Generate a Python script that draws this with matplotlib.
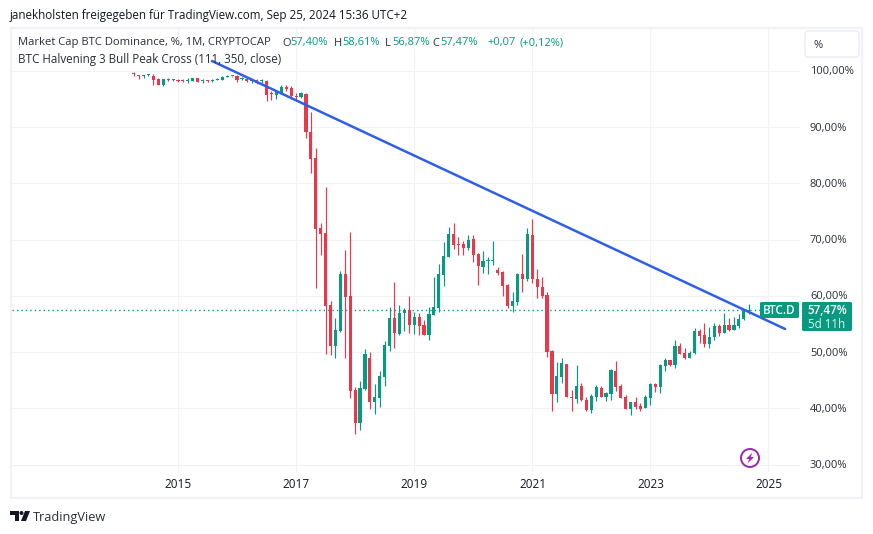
import matplotlib
matplotlib.use("Agg")
import matplotlib.pyplot as plt
from matplotlib.patches import FancyBboxPatch, Rectangle, Circle, Polygon
import numpy as np

plt.rcParams['font.family'] = ['Open Sans', 'DejaVu Sans']

first_month = -9  # months relative to Jan 2015 (Apr 2014)
opens = [99.46,99.17,98.99,99.23,99.05,98.52,97.51,98.46,98.28,98.28,98.28,98.22,98.16,98.63,98.16,98.16,98.10,98.40,98.40,98.93,
 99.05,99.05,98.57,98.57,98.10,98.34,98.10,98.16,95.97,95.61,95.97,97.04,96.92,95.50,95.26,95.85,89.16,84.43,72.06,71.12,
 58.39,51.17,53.83,63.89,59.99,43.29,37.49,43.47,48.98,41.22,41.93,45.66,51.17,56.08,53.24,57.03,57.50,54.84,56.26,54.84,
 53.12,56.67,57.91,63.78,66.97,70.99,69.22,69.22,68.51,70.11,67.50,65.20,66.26,66.26,64.66,64.25,62.00,58.21,58.98,63.89,
 63.00,70.82,62.95,61.53,60.10,50.16,42.58,45.54,47.91,41.99,41.69,44.00,41.51,39.74,42.10,43.65,42.10,42.64,46.66,44.00,
 41.99,39.92,41.16,40.45,40.15,41.93,44.30,43.88,47.55,48.62,47.73,51.10,49.80,48.97,49.80,53.83,53.06,51.46,52.64,54.72,
 53.47,54.83,54.00,54.72,55.84,57.40]
highs = [99.82,99.28,99.23,99.40,99.34,98.63,98.57,98.69,98.52,98.52,98.52,98.63,98.69,98.69,98.52,98.40,98.52,98.63,99.05,99.23,
 99.11,99.17,98.93,98.75,98.57,98.57,98.52,98.34,96.44,96.44,97.51,97.51,97.27,96.09,96.21,95.97,92.71,86.20,72.89,79.40,
 59.04,56.08,64.37,68.16,71.35,43.77,44.83,50.51,49.98,44.36,46.61,52.00,57.97,62.47,58.39,57.80,59.99,57.20,56.91,55.67,
 58.09,63.42,65.61,69.58,72.18,72.89,70.41,69.81,70.82,70.76,67.68,68.04,66.85,69.75,65.20,64.43,62.12,60.70,64.01,67.45,
 72.06,73.60,64.78,63.42,60.76,50.40,48.32,48.91,47.91,43.29,47.73,44.47,42.10,42.58,44.18,44.00,43.00,46.96,48.44,44.36,
 42.34,41.22,41.99,41.04,42.40,44.60,44.60,47.91,48.91,48.62,52.17,51.58,50.69,50.22,54.36,54.06,55.25,54.54,55.25,54.95,
 57.02,56.14,56.31,56.79,57.62,58.61]
lows = [99.05,98.57,98.69,99.05,97.51,97.45,97.27,98.10,98.10,97.98,97.98,97.86,98.16,97.92,97.80,97.98,97.98,98.34,98.34,98.81,
 98.87,98.04,98.34,98.04,97.86,97.63,97.86,94.67,94.79,95.02,95.85,96.44,94.90,94.67,95.14,88.10,81.76,61.47,67.27,49.75,
 49.51,49.03,53.65,49.03,41.93,35.54,36.25,43.29,39.98,39.09,40.27,44.00,50.22,50.81,53.12,53.83,53.42,53.30,53.06,53.00,
 52.17,56.61,57.14,61.76,66.91,68.27,67.27,67.27,68.16,66.02,61.94,64.13,63.89,65.49,63.78,59.99,57.91,57.20,58.33,60.70,
 62.71,62.30,59.63,59.69,49.21,39.56,41.22,44.60,41.99,39.62,41.04,41.40,39.56,39.27,41.40,41.99,41.40,41.51,43.17,41.81,
 39.86,38.85,39.86,39.62,40.09,40.63,42.93,42.82,46.72,47.55,47.26,49.62,48.80,48.91,49.68,51.70,50.99,50.75,52.17,52.88,
 53.35,53.83,53.95,54.36,55.72,56.87]
closes = [99.34,99.11,99.05,99.28,98.34,97.51,98.46,98.40,98.34,98.22,98.22,98.28,98.63,97.98,98.22,98.10,98.34,98.46,98.87,98.99,
 98.99,98.40,98.63,98.10,98.34,97.86,98.16,95.73,95.79,96.21,97.15,96.74,95.50,95.26,95.97,89.16,84.37,71.88,71.06,58.27,
 51.17,53.95,63.89,59.81,43.17,37.49,43.65,49.69,41.22,42.05,45.78,51.28,56.08,53.47,56.97,57.50,54.84,56.26,54.66,53.12,
 56.79,57.97,63.89,67.09,70.99,69.04,69.10,68.51,69.93,67.27,65.31,66.20,66.38,66.38,64.07,61.82,58.21,59.10,63.89,63.00,
 70.99,62.95,61.58,59.99,50.04,42.64,45.78,48.08,42.05,41.93,44.00,41.51,39.74,42.22,43.76,42.10,42.76,46.84,43.88,41.93,
 39.98,41.16,40.27,39.86,42.05,44.42,43.82,47.73,48.68,47.73,51.10,49.68,48.97,49.80,53.83,52.94,51.46,52.70,54.66,53.41,
 54.83,53.95,54.83,55.90,57.40,57.47]
months = np.arange(first_month, first_month + len(opens))

trend_months = [6.9, 123.4]
trend_values = [101.72, 54.12]

year_ticks = [0, 24, 48, 72, 96, 120]
year_labels = ['2015', '2017', '2019', '2021', '2023', '2025']
price_ticks = [100, 90, 80, 70, 60, 50, 40, 30]
last_price = 57.47

UP = '#089981'
DOWN = '#e8394c'
GRID = '#f1f2f5'
TEXT = '#131722'
W, H = 873, 534

fig = plt.figure(figsize=(W / 100, H / 100), dpi=100, facecolor='white')

# chart pane: pixels x 12..800, y 28..472
ax = fig.add_axes([12 / W, 1 - 472 / H, (800 - 12) / W, (472 - 28) / H])
ax.set_xlim(-33.74, 126.42)
ax.set_ylim(28.72, 107.58)
for s in ax.spines.values():
    s.set_visible(False)
ax.tick_params(length=0, labelleft=False, labelbottom=False)
ax.set_xticks(year_ticks)
ax.set_yticks(price_ticks)
ax.grid(True, color=GRID, lw=0.75)
ax.set_axisbelow(True)

colors = [UP if c >= o else DOWN for o, c in zip(opens, closes)]
ax.vlines(months, lows, highs, colors=colors, lw=0.85, zorder=2)
bottoms = np.minimum(opens, closes)
heights = np.maximum(np.abs(np.array(closes) - np.array(opens)), 0.18)
ax.bar(months, heights, bottom=bottoms, width=0.64, color=colors, lw=0, zorder=3)

ax.axhline(last_price, xmin=0, xmax=(760 - 12) / 788, color=UP, lw=1.0, ls=(0, (1, 2.2)), zorder=1)
ax.plot(trend_months, trend_values, color='#2f5fe6', lw=1.8, zorder=4, solid_capstyle='round')

# overlay in pixel coordinates for frame, labels and badges
ov = fig.add_axes([0, 0, 1, 1], facecolor='none')
ov.set_xlim(0, W)
ov.set_ylim(H, 0)
ov.axis('off')

ov.add_patch(Rectangle((11, 28), 851, 470, fill=False, ec=GRID, lw=1.6))

fs = 8.0
fl = 8.33
ov.text(10, 15.5, 'janekholsten freigegeben für TradingView.com, Sep 25, 2024 15:36 UTC+2',
        fontsize=fl, color=TEXT, va='center')
ov.text(18, 43, 'Market Cap BTC Dominance, %, 1M, CRYPTOCAP', fontsize=8.13, color='#2a2e39', va='center')
ov.text(18, 60, 'BTC Halvening 3 Bull Peak Cross (111, 350, close)', fontsize=fl, color='#2a2e39', va='center')
for x, label, value in [(282, 'O', '57,40%'), (334, 'H', '58,61%'), (385, 'L', '56,87%'), (432, 'C', '57,47%')]:
    ov.text(x, 43, label, fontsize=fs, color='#2a2e39', va='center')
    ov.text(x + (8 if label != 'L' else 7), 43, value, fontsize=fs, color=UP, va='center')
ov.text(487, 43, '+0,07', fontsize=fs, color=UP, va='center')
ov.text(520, 43, '(+0,12%)', fontsize=fs, color=UP, va='center')

for t, lab in zip(year_ticks, year_labels):
    px = 178 + t * 4.925
    ov.text(px, 484, lab, fontsize=8.5, color=TEXT, ha='center', va='center')
for p in price_ticks:
    py = 70.7 + (100 - p) * 5.63
    ov.text(810, py + 1, f'{p},00%', fontsize=fs, color='#2a2e39', va='center')

ov.add_patch(FancyBboxPatch((805, 31), 54, 26, boxstyle='round,pad=0,rounding_size=3',
                            fc='white', ec='#e6e8ee', lw=0.8))
ov.text(814, 45, '%', fontsize=fs, color='#2a2e39', va='center')

ov.add_patch(FancyBboxPatch((760, 302), 39, 16, boxstyle='round,pad=0,rounding_size=1.5', fc=UP, ec='none'))
ov.text(779.5, 311, 'BTC.D', fontsize=8.4, color='white', ha='center', va='center', fontweight='semibold')
ov.add_patch(FancyBboxPatch((802, 302), 50, 29, boxstyle='round,pad=0,rounding_size=1.5', fc=UP, ec='none'))
ov.text(827, 311, '57,47%', fontsize=8.4, color='white', ha='center', va='center', fontweight='semibold')
ov.text(827, 325, '5d 11h', fontsize=8.4, color='#e0f2ee', ha='center', va='center')

ov.add_patch(Circle((750, 458), 9, fc='white', ec='#9c27b0', lw=1.4))
ov.add_patch(Polygon([(752.5, 452.5), (746, 459), (749.3, 459), (747.5, 463.5), (754, 457), (750.7, 457)],
                     closed=True, fc='#9c27b0', ec='none'))

ov.add_patch(Polygon([(10, 511), (19, 511), (19, 521), (15, 521), (15, 515), (10, 515)], closed=True, fc='#131722', ec='none'))
ov.add_patch(Circle((21.5, 513), 2, fc='#131722', ec='none'))
ov.add_patch(Polygon([(25, 511), (30, 511), (26, 521), (21, 521)], closed=True, fc='#131722', ec='none'))
ov.text(33, 517, 'TradingView', fontsize=9.2, color='#2a2e39', va='center')

fig.savefig('out.png', dpi=100, facecolor='white')
